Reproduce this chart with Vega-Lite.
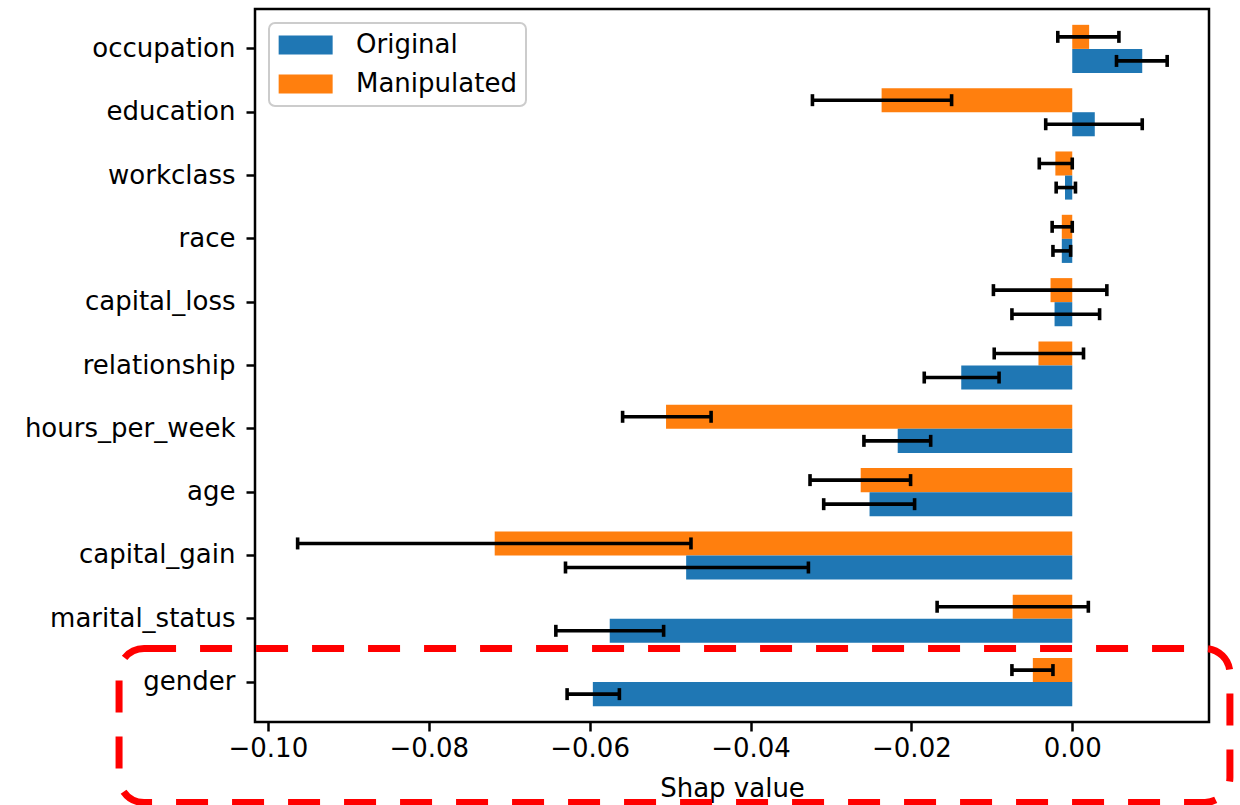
{
  "$schema": "https://vega.github.io/schema/vega-lite/v6.json",
  "width": 954,
  "height": 713,
  "autosize": {"type": "none"},
  "padding": {"left": 255, "top": 9, "right": 31, "bottom": 83},
  "background": "white",
  "config": {
    "font": "DejaVu Sans",
    "view": {"stroke": "black", "strokeWidth": 2.5},
    "axis": {
      "domain": false,
      "grid": false,
      "tickColor": "black",
      "tickWidth": 2.5,
      "tickSize": 9,
      "labelColor": "black",
      "labelFontSize": 26,
      "labelFont": "DejaVu Sans",
      "labelLimit": 500,
      "titleFont": "DejaVu Sans",
      "titleFontSize": 26,
      "titleFontWeight": "normal",
      "titleColor": "black"
    },
    "legend": {
      "orient": "top-left",
      "offset": 14,
      "padding": 9,
      "fillColor": "rgba(255,255,255,0.8)",
      "strokeColor": "#cccccc",
      "strokeWidth": 2,
      "cornerRadius": 6,
      "labelFontSize": 26,
      "labelFont": "DejaVu Sans",
      "labelColor": "black",
      "labelLimit": 500,
      "labelOffset": 52,
      "rowPadding": 13,
      "symbolStrokeWidth": 0
    }
  },
  "datasets": {
    "shap": [
      {"feature": "occupation", "series": "Manipulated", "value": 0.0021, "lo": -0.0018, "hi": 0.0058},
      {"feature": "occupation", "series": "Original", "value": 0.0087, "lo": 0.0055, "hi": 0.0118},
      {"feature": "education", "series": "Manipulated", "value": -0.0237, "lo": -0.0323, "hi": -0.0150},
      {"feature": "education", "series": "Original", "value": 0.0028, "lo": -0.0033, "hi": 0.0087},
      {"feature": "workclass", "series": "Manipulated", "value": -0.0021, "lo": -0.0041, "hi": 0.0000},
      {"feature": "workclass", "series": "Original", "value": -0.0009, "lo": -0.0020, "hi": 0.0004},
      {"feature": "race", "series": "Manipulated", "value": -0.0013, "lo": -0.0025, "hi": 0.0000},
      {"feature": "race", "series": "Original", "value": -0.0013, "lo": -0.0024, "hi": -0.0002},
      {"feature": "capital_loss", "series": "Manipulated", "value": -0.0027, "lo": -0.0098, "hi": 0.0043},
      {"feature": "capital_loss", "series": "Original", "value": -0.0022, "lo": -0.0075, "hi": 0.0034},
      {"feature": "relationship", "series": "Manipulated", "value": -0.0042, "lo": -0.0097, "hi": 0.0014},
      {"feature": "relationship", "series": "Original", "value": -0.0138, "lo": -0.0184, "hi": -0.0091},
      {"feature": "hours_per_week", "series": "Manipulated", "value": -0.0505, "lo": -0.0559, "hi": -0.0449},
      {"feature": "hours_per_week", "series": "Original", "value": -0.0217, "lo": -0.0259, "hi": -0.0176},
      {"feature": "age", "series": "Manipulated", "value": -0.0263, "lo": -0.0326, "hi": -0.0201},
      {"feature": "age", "series": "Original", "value": -0.0252, "lo": -0.0309, "hi": -0.0196},
      {"feature": "capital_gain", "series": "Manipulated", "value": -0.0718, "lo": -0.0963, "hi": -0.0474},
      {"feature": "capital_gain", "series": "Original", "value": -0.0480, "lo": -0.0630, "hi": -0.0328},
      {"feature": "marital_status", "series": "Manipulated", "value": -0.0074, "lo": -0.0168, "hi": 0.0020},
      {"feature": "marital_status", "series": "Original", "value": -0.0575, "lo": -0.0642, "hi": -0.0508},
      {"feature": "gender", "series": "Manipulated", "value": -0.0049, "lo": -0.0075, "hi": -0.0024},
      {"feature": "gender", "series": "Original", "value": -0.0596, "lo": -0.0628, "hi": -0.0563}
    ],
    "box": [
      {"x1": -0.1185, "x2": 0.0196, "y1": 9.47, "y2": 11.9}
    ]
  },
  "resolve": {"scale": {"y": "independent"}},
  "layer": [
    {
      "data": {"name": "shap"},
      "encoding": {
        "y": {
          "field": "feature",
          "type": "nominal",
          "sort": ["occupation", "education", "workclass", "race", "capital_loss", "relationship", "hours_per_week", "age", "capital_gain", "marital_status", "gender"],
          "scale": {"paddingInner": 0.24, "paddingOuter": 0.25},
          "axis": {"title": null, "labelPadding": 11}
        },
        "yOffset": {
          "field": "series",
          "type": "nominal",
          "scale": {"domain": ["Manipulated", "Original"]}
        }
      },
      "layer": [
        {
          "mark": {"type": "bar"},
          "encoding": {
            "x": {
              "field": "value",
              "type": "quantitative",
              "scale": {"domain": [-0.1016, 0.017], "nice": false, "zero": false},
              "axis": {"values": [-0.1, -0.08, -0.06, -0.04, -0.02, 0], "format": ".2f", "title": "Shap value", "labelPadding": 4, "titlePadding": 14}
            },
            "color": {
              "field": "series",
              "type": "nominal",
              "scale": {"domain": ["Original", "Manipulated"], "range": ["#1f77b4", "#ff7f0e"]},
              "legend": {"title": null, "symbolType": "M-1.3,-1H4.384V1H-1.3Z", "symbolSize": 361}
            }
          }
        },
        {
          "mark": {"type": "rule", "color": "black", "strokeWidth": 3.6},
          "encoding": {
            "x": {"field": "lo", "type": "quantitative", "scale": {"domain": [-0.1016, 0.017], "nice": false, "zero": false}},
            "x2": {"field": "hi"}
          }
        },
        {
          "mark": {"type": "tick", "orient": "vertical", "color": "black", "thickness": 3.6, "size": 12, "opacity": 1},
          "encoding": {
            "x": {"field": "lo", "type": "quantitative", "scale": {"domain": [-0.1016, 0.017], "nice": false, "zero": false}}
          }
        },
        {
          "mark": {"type": "tick", "orient": "vertical", "color": "black", "thickness": 3.6, "size": 12, "opacity": 1},
          "encoding": {
            "x": {"field": "hi", "type": "quantitative", "scale": {"domain": [-0.1016, 0.017], "nice": false, "zero": false}}
          }
        },
        {
          "mark": {"type": "rule", "color": "black", "strokeWidth": 3.2},
          "encoding": {
            "x": {"datum": 0, "type": "quantitative", "scale": {"domain": [-0.1016, 0.017], "nice": false, "zero": false}}
          }
        }
      ]
    },
    {
      "data": {"name": "box"},
      "mark": {"type": "rect", "filled": false, "stroke": "#ff0000", "strokeWidth": 7, "strokeDash": [32, 24], "cornerRadius": 25, "clip": false},
      "encoding": {
        "x": {"field": "x1", "type": "quantitative", "scale": {"domain": [-0.1016, 0.017], "nice": false, "zero": false}},
        "x2": {"field": "x2"},
        "y": {"field": "y1", "type": "quantitative", "scale": {"domain": [-0.63, 10.63], "reverse": true, "nice": false, "zero": false}, "axis": null},
        "y2": {"field": "y2"}
      }
    }
  ]
}
